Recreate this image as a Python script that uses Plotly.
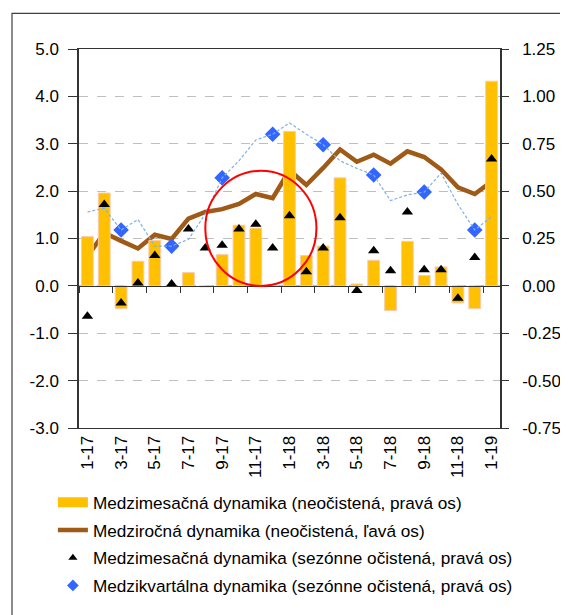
import plotly.graph_objects as go

months = ["1-17", "2-17", "3-17", "4-17", "5-17", "6-17", "7-17", "8-17", "9-17", "10-17",
          "11-17", "12-17", "1-18", "2-18", "3-18", "4-18", "5-18", "6-18", "7-18", "8-18",
          "9-18", "10-18", "11-18", "12-18", "1-19"]

# Medzimesačná dynamika (neočistená, pravá os)
mom_raw = [0.26, 0.49, -0.12, 0.13, 0.24, 0.0, 0.07, -0.005, 0.165, 0.32,
           0.305, 0.0, 0.815, 0.16, 0.21, 0.57, 0.01, 0.135, -0.13, 0.235,
           0.055, 0.10, -0.09, -0.12, 1.08]
# Medziročná dynamika (neočistená, ľavá os)
yoy_raw = [0.62, 1.12, 0.95, 0.79, 1.08, 0.99, 1.42, 1.56, 1.62, 1.73,
           1.94, 1.85, 2.44, 2.13, 2.49, 2.88, 2.62, 2.77, 2.58, 2.84,
           2.72, 2.46, 2.08, 1.94, 2.20]
# Medzimesačná dynamika (sezónne očistená, pravá os)
mom_sa = [-0.16, 0.43, -0.09, 0.015, 0.16, 0.01, 0.30, 0.20, 0.215, 0.30,
          0.325, 0.20, 0.37, 0.075, 0.20, 0.36, -0.025, 0.185, 0.08, 0.39,
          0.085, 0.085, -0.065, 0.15, 0.67]
# Medzikvartálna dynamika (sezónne očistená, pravá os) - quarterly points
qoq_sa = [None, None, 0.295, None, None, 0.21, None, None, 0.57, None,
          None, 0.80, None, None, 0.745, None, None, 0.585, None, None,
          0.495, None, None, 0.295, None]
# monthly rolling quarter-on-quarter line (dotted)
qoq_roll = [0.39, 0.41, 0.295, 0.35, 0.21, 0.21, 0.245, 0.38, 0.57, 0.66,
            0.77, 0.80, 0.86, 0.80, 0.745, 0.66, 0.62, 0.585, 0.45, 0.48,
            0.495, 0.595, 0.43, 0.295, 0.365]

# axis tick values
left_ticks = [5.0, 4.0, 3.0, 2.0, 1.0, 0.0, -1.0, -2.0, -3.0]
right_ticks = [1.25, 1.00, 0.75, 0.50, 0.25, 0.00, -0.25, -0.50, -0.75]

labels = ["Medzimesačná dynamika (neočistená, pravá os)",
          "Medziročná dynamika (neočistená, ľavá os)",
          "Medzimesačná dynamika (sezónne očistená, pravá os)",
          "Medzikvartálna dynamika (sezónne očistená, pravá os)"]

x = list(range(len(months)))
FONT = "Liberation Sans"
FS = 17
ORANGE = "#FFC000"
BROWN = "#9E5A16"
BLUE = "#3366FF"

fig = go.Figure()
fig.add_trace(go.Bar(x=x, y=mom_raw, yaxis="y2", marker=dict(color=ORANGE, line=dict(color="#F8CBAD", width=1)),
                     width=0.7, name=labels[0], showlegend=False, legendgroup="a"))
fig.add_trace(go.Scatter(x=x, y=qoq_roll, mode="lines", line=dict(color="#7FB0E6", width=1.2, dash="3px,2px"),
                         xaxis="x2", yaxis="y2", showlegend=False, hoverinfo="skip"))
fig.add_trace(go.Scatter(x=x, y=yoy_raw, mode="lines", line=dict(color=BROWN, width=4.5),
                         name=labels[1], showlegend=False, legendgroup="b"))
fig.add_trace(go.Scatter(x=x, y=mom_sa, mode="markers", yaxis="y2",
                         marker=dict(symbol="triangle-up", color="black", size=10),
                         name=labels[2], showlegend=False, legendgroup="c"))
fig.add_trace(go.Scatter(x=x, y=qoq_sa, mode="markers", yaxis="y2",
                         marker=dict(symbol="diamond", color=BLUE, size=12),
                         name=labels[3], showlegend=False, legendgroup="d"))

# legend entries (symbols styled like the original legend)
fig.add_trace(go.Scatter(x=[None], y=[None], mode="lines", line=dict(color=ORANGE, width=10),
                         name=labels[0], legendgroup="a", legendrank=1))
fig.add_trace(go.Scatter(x=[None], y=[None], mode="lines", line=dict(color=BROWN, width=4.5),
                         name=labels[1], legendgroup="b", legendrank=2))
fig.add_trace(go.Scatter(x=[None], y=[None], mode="markers", marker=dict(symbol="triangle-up", color="black", size=8),
                         name=labels[2], legendgroup="c", legendrank=3))
fig.add_trace(go.Scatter(x=[None], y=[None], mode="markers", marker=dict(symbol="diamond", color=BLUE, size=9),
                         name=labels[3], legendgroup="d", legendrank=4))

bounds = [i - 0.5 for i in range(0, len(months) + 1, 2)]

# page body has an 8px margin, so the figure is 8px smaller and shifted
fig.update_layout(
    width=560, height=607,
    margin=dict(l=71, r=68, t=41, b=182),
    plot_bgcolor="white", paper_bgcolor="white",
    font=dict(family=FONT, size=FS, color="black"),
    bargap=0.3,
    showlegend=True,
    legend=dict(x=-0.062, y=-0.149, xanchor="left", yanchor="top", bgcolor="rgba(0,0,0,0)",
                tracegroupgap=2.4, font=dict(size=17.2), itemwidth=30),
    xaxis=dict(range=[-0.5, len(months) - 0.5], tickmode="array", tickvals=x[::2], ticktext=months[::2],
               tickangle=-90, ticks="", showline=True, mirror=True, linecolor="#333333", linewidth=1,
               showgrid=False, zeroline=False, tickfont=dict(size=FS), automargin=False),
    xaxis2=dict(range=[-0.5, len(months) - 0.5], overlaying="x", anchor="free", position=0.375,
                tickmode="array", tickvals=bounds, showticklabels=False, ticks="outside", ticklen=6,
                tickcolor="#333333", showline=True, linecolor="#333333", linewidth=1,
                showgrid=False, zeroline=False, automargin=False),
    yaxis=dict(range=[-3, 5], tickmode="array", tickvals=left_ticks,
               ticktext=[f"{v:.1f}" for v in left_ticks], ticks="outside", ticklen=9, tickcolor="#333333",
               showline=True, linecolor="#333333", linewidth=1.5, showgrid=True, gridcolor="#BFBFBF",
               griddash="dash", zeroline=False, tickfont=dict(size=FS), ticklabelstandoff=6,
               automargin=False),
    yaxis2=dict(range=[-0.75, 1.25], tickmode="array", tickvals=right_ticks,
                ticktext=[f"{v:.2f}" for v in right_ticks], overlaying="y", side="right", anchor="x",
                ticks="outside", ticklen=7, tickcolor="#333333", showline=True, linecolor="#333333",
                linewidth=1.5, showgrid=False, zeroline=False, tickfont=dict(size=FS), ticklabelstandoff=10,
                automargin=False),
    shapes=[
        dict(type="circle", xref="x", yref="y", x0=7.0, x1=13.6, y0=0.0, y1=2.43,
             line=dict(color="#FF0000", width=2), layer="above"),
        dict(type="rect", xref="paper", yref="paper", x0=(12 - 79) / 421, x1=(580 - 79) / 421,
             y0=(433 - 630) / 384, y1=(433 - 13) / 384, line=dict(color="#404040", width=1.2)),
    ],
)

fig.write_html("out.html")
